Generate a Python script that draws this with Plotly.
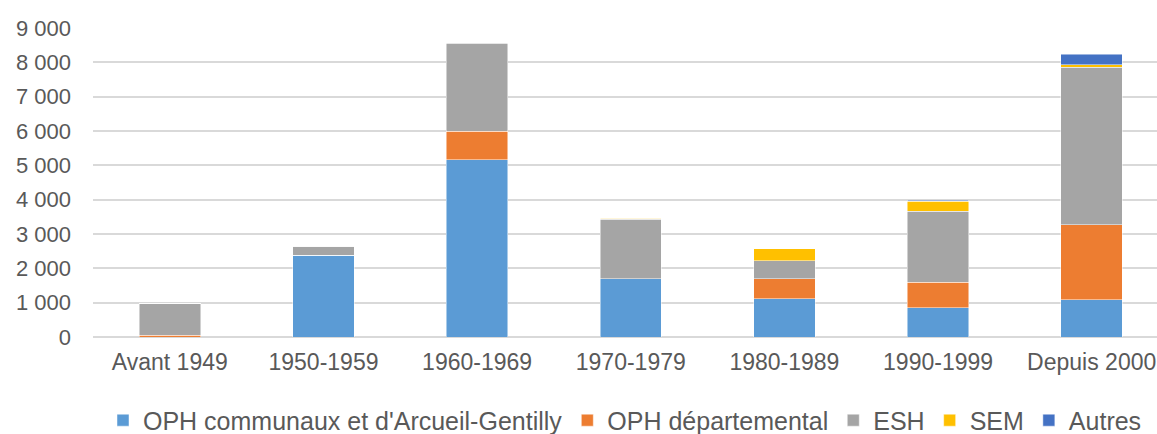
import plotly.graph_objects as go

# Périodes de construction
periodes = ["Avant 1949", "1950-1959", "1960-1969", "1970-1979",
            "1980-1989", "1990-1999", "Depuis 2000"]

# Nombre de logements par type de bailleur
oph_communaux = [0, 2380, 5160, 1700, 1120, 850, 1090]
oph_departemental = [50, 0, 840, 0, 580, 740, 2180]
esh = [920, 270, 2550, 1730, 520, 2070, 4590]
sem = [0, 0, 15, 25, 350, 300, 70]
autres = [0, 0, 0, 0, 0, 30, 310]

series = [
    ("OPH communaux et d'Arcueil-Gentilly", oph_communaux, "#5B9BD5"),
    ("OPH départemental", oph_departemental, "#ED7D31"),
    ("ESH", esh, "#A5A5A5"),
    ("SEM", sem, "#FFC000"),
    ("Autres", autres, "#4472C4"),
]

fig = go.Figure()
for nom, valeurs, couleur in series:
    fig.add_trace(go.Bar(
        x=periodes, y=valeurs, name=nom,
        marker=dict(color=couleur, line=dict(color="rgba(255,255,255,0.6)", width=0.8)),
    ))

police = dict(family="Liberation Sans, Arial, sans-serif", color="#595959")

fig.update_layout(
    barmode="stack",
    bargap=0.6,
    width=1157, height=434,
    margin=dict(l=93, r=0, t=28, b=97, autoexpand=False),
    paper_bgcolor="white", plot_bgcolor="white",
    separators=", ",
    font=dict(**police, size=21),
    xaxis=dict(
        type="category",
        range=[-0.5, 6.425],
        showgrid=False, showline=False, zeroline=False,
        tickfont=dict(**police, size=23),
        ticks="", ticklabelstandoff=9, automargin=False,
    ),
    yaxis=dict(
        range=[0, 9000], dtick=1000, tickformat=",d",
        showgrid=True, gridcolor="#D9D9D9", gridwidth=1.5,
        zeroline=True, zerolinecolor="#D9D9D9", zerolinewidth=1.5,
        showline=False, ticks="",
        tickfont=dict(**police, size=22),
        ticklabelstandoff=21, automargin=False,
    ),
    legend=dict(
        orientation="h", x=0.5, xanchor="center", y=-0.27, yanchor="middle",
        font=dict(**police, size=25),
        traceorder="normal", itemwidth=30,
    ),
    showlegend=True,
)

fig.write_html("out.html")
